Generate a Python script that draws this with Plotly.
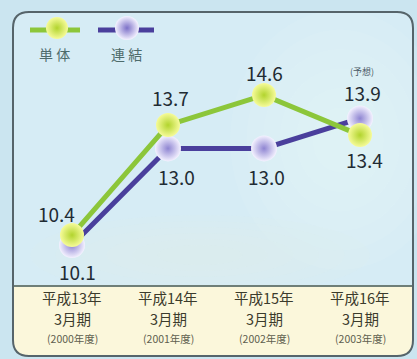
import plotly.graph_objects as go

# ---- data -------------------------------------------------------------
periods = ["平成13年", "平成14年", "平成15年", "平成16年"]
period_sub = ["3月期", "3月期", "3月期", "3月期"]
fiscal_years = ["(2000年度)", "(2001年度)", "(2002年度)", "(2003年度)"]
tantai = [10.4, 13.7, 14.6, 13.4]     # 単体
renketsu = [10.1, 13.0, 13.0, 13.9]   # 連結
forecast_note = "(予想)"

W, H = 417, 359
x_idx = list(range(len(periods)))

GREEN_LINE = "#8cc63a"
GREEN_BALL = "#b2d42e"
PURPLE_LINE = "#4a3f9c"
PURPLE_BALL = "#8f85d2"
NUM_COLOR = "#1f2b33"
CAT_COLOR = "#3b3b2c"

fig = go.Figure()

# lines + spherical markers (radial gradient gives the ball look)
fig.add_trace(go.Scatter(
    x=x_idx, y=renketsu, mode="lines+markers", name="連結",
    line=dict(color=PURPLE_LINE, width=5),
    marker=dict(size=26, color="#f4f2ff", line=dict(width=0),
                gradient=dict(type="radial", color=PURPLE_BALL)),
    hoverinfo="skip", showlegend=False,
))
fig.add_trace(go.Scatter(
    x=x_idx, y=tantai, mode="lines+markers", name="単体",
    line=dict(color=GREEN_LINE, width=5),
    marker=dict(size=24, color="#f6fb9a", line=dict(width=0),
                gradient=dict(type="radial", color=GREEN_BALL)),
    hoverinfo="skip", showlegend=False,
))

# value labels: (dx, dy) pixel offsets from each point
green_off = [(-16, 22), (2, 28), (0, 23), (4, -24)]
purple_off = [(5, -26), (8, -28), (2, -28), (2, 26)]
ann = []
for i, v in enumerate(tantai):
    dx, dy = green_off[i]
    ann.append(dict(x=i, y=v, xref="x", yref="y", text=f"{v:.1f}",
                    showarrow=False, xshift=dx, yshift=dy,
                    xanchor="center", yanchor="middle",
                    font=dict(size=19, color=NUM_COLOR)))
for i, v in enumerate(renketsu):
    dx, dy = purple_off[i]
    ann.append(dict(x=i, y=v, xref="x", yref="y", text=f"{v:.1f}",
                    showarrow=False, xshift=dx, yshift=dy,
                    xanchor="center", yanchor="middle",
                    font=dict(size=19, color=NUM_COLOR)))
ann.append(dict(x=3, y=renketsu[3], xref="x", yref="y", text=forecast_note,
                showarrow=False, xshift=2, yshift=47,
                xanchor="center", yanchor="middle",
                font=dict(size=9, color="#4a5a66")))


def py(p):
    """pixel row -> paper y"""
    return 1 - p / H


# period labels in the bottom band
for i in x_idx:
    for txt, row, size, col in ((periods[i], 297, 14.5, CAT_COLOR),
                                (period_sub[i], 318, 14.5, CAT_COLOR),
                                (fiscal_years[i], 338, 10.5, "#5e5e4e")):
        ann.append(dict(x=i, y=py(row), xref="x", yref="paper", text=txt,
                        showarrow=False, xanchor="center", yanchor="middle",
                        font=dict(size=size, color=col)))

# legend captions
for txt, px in (("単 体", 54), ("連 結", 126)):
    ann.append(dict(x=px / W, y=py(54), xref="paper", yref="paper", text=txt,
                    showarrow=False, xanchor="center", yanchor="middle",
                    font=dict(size=14, color="#4d6b6b")))

# legend icons, drawn on a separate pixel-space axis pair
fig.add_trace(go.Scatter(
    x=[30, 80], y=[30, 30], xaxis="x2", yaxis="y2", mode="lines",
    line=dict(color=GREEN_LINE, width=5), hoverinfo="skip", showlegend=False))
fig.add_trace(go.Scatter(
    x=[57], y=[28], xaxis="x2", yaxis="y2", mode="markers",
    marker=dict(size=22, color="#f6fb9a",
                gradient=dict(type="radial", color=GREEN_BALL)),
    hoverinfo="skip", showlegend=False))
fig.add_trace(go.Scatter(
    x=[98, 154], y=[30, 30], xaxis="x2", yaxis="y2", mode="lines",
    line=dict(color=PURPLE_LINE, width=5), hoverinfo="skip", showlegend=False))
fig.add_trace(go.Scatter(
    x=[127], y=[28], xaxis="x2", yaxis="y2", mode="markers",
    marker=dict(size=24, color="#f4f2ff",
                gradient=dict(type="radial", color="#7d71c8")),
    hoverinfo="skip", showlegend=False))


def rounded_panel(x0, y0, x1, y1, r):
    X = lambda v: v / W
    Y = lambda v: 1 - v / H
    return (f"M {X(x0 + r)},{Y(y0)} L {X(x1 - r)},{Y(y0)} "
            f"Q {X(x1)},{Y(y0)} {X(x1)},{Y(y0 + r)} "
            f"L {X(x1)},{Y(y1 - r)} Q {X(x1)},{Y(y1)} {X(x1 - r)},{Y(y1)} "
            f"L {X(x0 + r)},{Y(y1)} Q {X(x0)},{Y(y1)} {X(x0)},{Y(y1 - r)} "
            f"L {X(x0)},{Y(y0 + r)} Q {X(x0)},{Y(y0)} {X(x0 + r)},{Y(y0)} Z")


# background: soft blue panel, pale yellow label band, rounded border
shapes = [
    dict(type="rect", xref="paper", yref="paper", x0=0, x1=1, y0=0, y1=1,
         fillcolor="#cbe5f0", line=dict(width=0), layer="below"),
    dict(type="path", xref="paper", yref="paper",
         path=rounded_panel(13, 12, 413, 356, 16),
         fillcolor="#d6ecf5", line=dict(width=0), layer="below"),
]
# very soft washes: faint concentric ellipses to fake a gradient
for cx, cy, rx0, ry0, rgba in ((340, 140, 110, 130, "240,249,250"),
                               (200, 255, 170, 40, "230,245,225")):
    for s in range(6):
        f = 1 - s * 0.15
        shapes.append(dict(type="circle", xref="paper", yref="paper",
                           x0=(cx - rx0 * f) / W, x1=(cx + rx0 * f) / W,
                           y0=py(cy + ry0 * f), y1=py(cy - ry0 * f),
                           fillcolor=f"rgba({rgba},0.08)",
                           line=dict(width=0), layer="below"))
shapes += [
    dict(type="path", xref="paper", yref="paper",
         path=(f"M {13/W},{py(286)} L {413/W},{py(286)} L {413/W},{py(340)} "
               f"Q {413/W},{py(356)} {397/W},{py(356)} L {29/W},{py(356)} "
               f"Q {13/W},{py(356)} {13/W},{py(340)} Z"),
         fillcolor="#fbf7db", line=dict(width=0), layer="below"),
    dict(type="line", xref="paper", yref="paper",
         x0=13 / W, x1=413 / W, y0=py(286), y1=py(286),
         line=dict(color="#6f7f78", width=2), layer="below"),
    dict(type="path", xref="paper", yref="paper",
         path=rounded_panel(13, 12, 413, 356, 16),
         fillcolor="rgba(0,0,0,0)", line=dict(color="#56646a", width=2),
         layer="below"),
]

# value axis: 33.3 px per unit, 10.1 sitting at pixel row 245
y_top_px, y_bot_px = 40, 286
a, b = 581.7, 33.33
y_top_val = (a - y_top_px) / b
y_bot_val = (a - y_bot_px) / b

x0_px, x1_px = 13, 413
x_left = (x0_px - 72) / 96
x_right = (x1_px - 72) / 96

fig.update_layout(
    width=W, height=H,
    margin=dict(l=0, r=0, t=0, b=0),
    paper_bgcolor="#cbe5f0", plot_bgcolor="rgba(0,0,0,0)",
    font=dict(family="Noto Sans CJK JP, DejaVu Sans, sans-serif"),
    xaxis=dict(domain=[x0_px / W, x1_px / W], range=[x_left, x_right],
               visible=False, fixedrange=True),
    yaxis=dict(domain=[py(y_bot_px), py(y_top_px)],
               range=[y_bot_val, y_top_val], visible=False, fixedrange=True),
    xaxis2=dict(domain=[0, 1], range=[0, W], visible=False, anchor="y2",
                fixedrange=True),
    yaxis2=dict(domain=[0, 1], range=[H, 0], visible=False, anchor="x2",
                fixedrange=True),
    shapes=shapes,
    annotations=ann,
    showlegend=False,
)

fig.write_html("out.html")
